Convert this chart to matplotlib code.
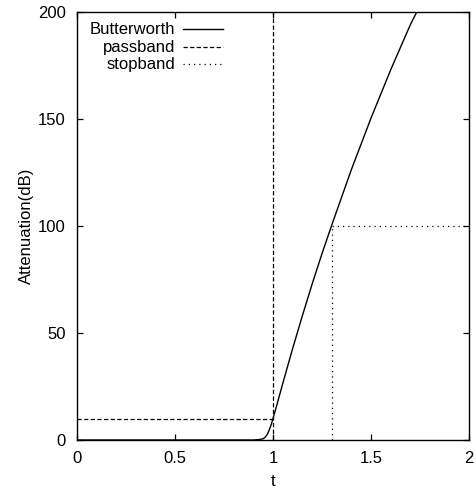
import matplotlib.pyplot as plt

plt.rcParams['font.family'] = ['Liberation Sans', 'DejaVu Sans']

# Butterworth attenuation curve
t_vals = [0.0, 0.5, 0.85, 0.9, 0.93, 0.95, 0.96, 0.97, 0.98, 0.99, 1.0, 1.02, 1.05,
          1.1, 1.15, 1.2, 1.25, 1.3, 1.4, 1.5, 1.6, 1.7, 1.75]
atten_db = [0.0, 0.0, 0.0, 0.0, 0.2, 0.6, 1.3, 2.5, 4.5, 7.0, 10.0, 16.5, 26.5,
            42.7, 58.1, 73.0, 87.1, 100.5, 126.4, 150.4, 172.9, 193.9, 203.0]

# passband: 10 dB up to t = 1 ; stopband: 100 dB from t = 1.3
pass_t = 1.0
pass_db = 10
stop_t = 1.3
stop_db = 100

x_ticks = [0, 0.5, 1, 1.5, 2]
x_ticklabels = ['0', '0.5', '1', '1.5', '2']
y_ticks = [0, 50, 100, 150, 200]

fig = plt.figure(figsize=(4.76, 4.96), dpi=100)
ax = fig.add_axes([0.1618, 0.1129, 0.8235, 0.8629])

dash = (0, (3.4, 1.9))
dot = (0, (1.0, 3.2))

ax.plot(t_vals, atten_db, color='black', lw=1.0)
# passband lines
ax.plot([pass_t, pass_t], [0, 200], color='black', lw=0.9, linestyle=dash)
ax.plot([0, pass_t], [pass_db, pass_db], color='black', lw=0.9, linestyle=dash)
# stopband lines
ax.plot([stop_t, stop_t], [0, stop_db], color='black', lw=0.9, linestyle=dot)
ax.plot([stop_t, 2], [stop_db, stop_db], color='black', lw=0.9, linestyle=dot)

ax.set_xlim(0, 2)
ax.set_ylim(0, 200)
ax.set_xticks(x_ticks)
ax.set_xticklabels(x_ticklabels)
ax.set_yticks(y_ticks)
ax.tick_params(direction='in', top=True, right=True, length=4.5, width=0.9,
               labelsize=12, pad=8)
for s in ax.spines.values():
    s.set_linewidth(1.0)

ax.set_xlabel('t', fontsize=12, labelpad=6)
ax.set_ylabel('Attenuation(dB)', fontsize=12, labelpad=3)

# gnuplot style key: text right aligned, sample to the right
key = [('Butterworth', '-'), ('passband', dash), ('stopband', dot)]
key_y = [0.960, 0.918, 0.878]
for (label, ls), ky in zip(key, key_y):
    ax.text(0.25, ky, label, transform=ax.transAxes, ha='right', va='center', fontsize=12)
    ax.plot([0.27, 0.372], [ky, ky], transform=ax.transAxes, color='black',
            lw=0.9 if ls != '-' else 1.0, linestyle=ls, clip_on=False)

fig.savefig('out.png', dpi=100)
